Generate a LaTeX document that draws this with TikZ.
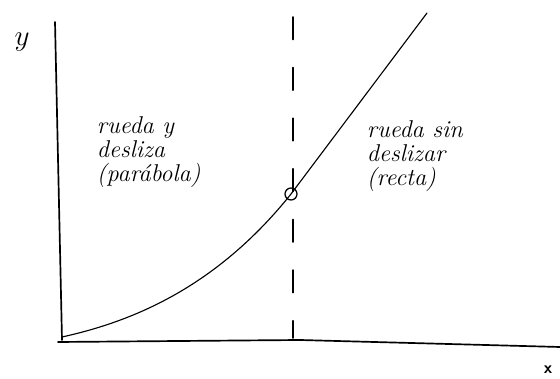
\documentclass[tikz,border=0pt]{standalone}
\usepackage{fontspec}
\begin{document}
\begin{tikzpicture}[line cap=round,line join=round,>=stealth,x=0.025cm,y=-0.025cm,scale=1]
			\useasboundingbox (0,0) rectangle (560,379);
			\draw[line width=1.2pt] (55,22)--(62,340);
			\draw[line width=1.2pt] (58,342)--(300,340)--(560,347);
			\draw[line width=0.8pt] (62,337) .. controls (130,322) and (215,289) .. (291,194) -- (427,13);
			\draw[line width=1.2pt,dash pattern=on 16pt off 20pt] (293,17)--(293,338);
			\draw[line width=0.9pt] (291,194) circle (6);
			\draw (22,42) node [font=\huge] (ejey) {$y$};
			\draw (548,370) node [font=\large\sffamily\bfseries] (ejex) {x};
			\draw (92,112) node [below right,align=left,font=\LARGE\itshape] (izq) {rueda y\\[-5pt]desliza\\[-5pt](parábola)};
			\draw (362,116) node [below right,align=left,font=\LARGE\itshape] (der) {rueda sin\\[-5pt]deslizar\\[-5pt](recta)};
		\end{tikzpicture}
\end{document}
